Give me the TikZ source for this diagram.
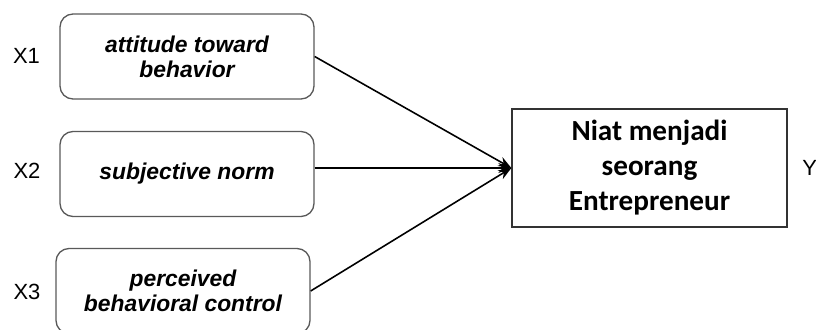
\documentclass[tikz,border=0pt]{standalone}
\usepackage{fontspec}
\setmainfont{Liberation Sans}
\newfontfamily\carlito{Carlito}
\usetikzlibrary{arrows.meta}

\tikzset{
  varbox/.style={draw=black!65, line width=0.75pt, rounded corners=0.26cm,
    minimum width=5.08cm, minimum height=1.70cm, inner sep=0pt, align=center,
    font=\fontsize{13}{14.2}\selectfont\bfseries\itshape},
  depbox/.style={draw=black!80, line width=0.75pt,
    minimum width=5.5cm, minimum height=2.36cm, inner sep=0pt, align=center,
    font=\carlito\fontsize{16.6}{19.9}\selectfont\bfseries},
  varlabel/.style={inner sep=0pt, font=\fontsize{12.5}{14}\selectfont},
  path/.style={line width=0.9pt, -{Stealth[length=0.26cm, width=0.2cm]}}
}

\begin{document}
\begin{tikzpicture}

	\useasboundingbox (0,0) rectangle (16.32,6.58);

	% independent variables
	\node [varbox] (b1) at (3.74, 5.45) {attitude toward\\behavior};
	\node [varbox] (b2) at (3.74, 3.10) {subjective norm};
	\node [varbox] (b3) at (3.66, 0.76) {perceived\\behavioral control};

	\node [varlabel] (x1) at (0.53, 5.46) {X1};
	\node [varlabel] (x2) at (0.54, 3.16) {X2};
	\node [varlabel] (x3) at (0.54, 0.74) {X3};

	% dependent variable
	\node [depbox] (y) at (12.99, 3.22) {Niat menjadi\\seorang\\Entrepreneur};
	\node [varlabel, anchor=west] (ylab) at (16.04, 3.22) {Y};

	\draw [path] (b1.east) -- (y.west);
	\draw [path] (b2.east |- y.west) -- (y.west);
	\draw [path] (b3.east) -- (y.west);

\end{tikzpicture}
\end{document}
